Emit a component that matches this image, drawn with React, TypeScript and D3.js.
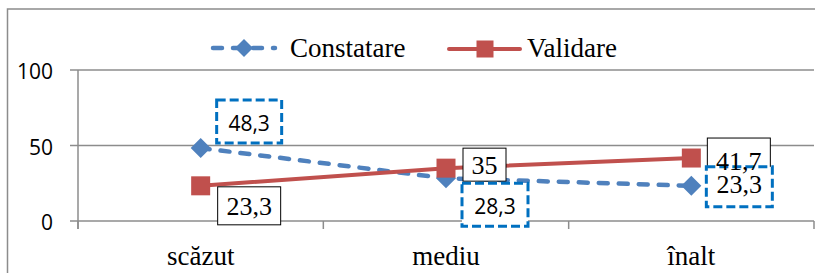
import React, { useEffect, useRef } from 'react';
import * as d3 from 'd3';

const categories = ['scăzut', 'mediu', 'înalt'];
const constatare = [48.3, 28.3, 23.3];
const validare = [23.3, 35, 41.7];
const constatareLabels = ['48,3', '28,3', '23,3'];
const validareLabels = ['23,3', '35', '41,7'];
const yTicks = [0, 50, 100];

// label box placement relative to the point: [dx, dy, width, height, textShift]
const constatareBoxes = [[16, -48, 65, 43, 0], [16, 5, 66, 43, 0], [15, -19, 66, 40, -3]];
const validareBoxes = [[17, 1, 63, 38, 0], [17, -20, 43, 33, 0], [16, -20, 63, 38, 3]];
const constatareFonts = ['sans', 'sans', 'serif'];

const SERIF = '"Liberation Serif", "Times New Roman", serif';
const SANS = '"Open Sans", "Noto Sans", sans-serif';
const BLUE = '#4F81BD';
const RED = '#C0504D';
const BOX_BLUE = '#0070C0';
const GRID = '#8c8c8c';

const App = () => {
  const ref = useRef<SVGSVGElement>(null);

  useEffect(() => {
    const svg = d3.select(ref.current);
    svg.selectAll('*').remove();

    const width = 815;
    const height = 273;
    const plot = { left: 78, right: 814, top: 70, bottom: 221 };

    svg.append('rect').attr('width', width).attr('height', height).attr('fill', '#fff');

    // outer frame
    svg.append('rect')
      .attr('x', 7.5).attr('y', 9)
      .attr('width', width + 10).attr('height', height + 10)
      .attr('fill', 'none').attr('stroke', GRID).attr('stroke-width', 1.5);

    const x = d3.scaleBand().domain(categories).range([plot.left, plot.right]).padding(0);
    const cx = (c: string) => (x(c) as number) + x.bandwidth() / 2;
    const y = d3.scaleLinear().domain([0, 100]).range([plot.bottom, plot.top]);

    // gridlines + y ticks
    yTicks.forEach(t => {
      svg.append('line')
        .attr('x1', plot.left - 8).attr('x2', plot.right)
        .attr('y1', y(t)).attr('y2', y(t))
        .attr('stroke', GRID).attr('stroke-width', 1.5);
      svg.append('text')
        .attr('x', 53).attr('y', y(t) + 1)
        .attr('text-anchor', 'end').attr('dominant-baseline', 'central')
        .attr('font-family', SANS).attr('font-size', 21).attr('fill', '#000')
        .text(t);
    });

    // y axis line
    svg.append('line')
      .attr('x1', plot.left).attr('x2', plot.left)
      .attr('y1', plot.top).attr('y2', plot.bottom + 8)
      .attr('stroke', GRID).attr('stroke-width', 1.5);

    // x ticks at band boundaries
    const bounds = categories.map(c => x(c) as number).concat([plot.right]);
    bounds.forEach(b => {
      svg.append('line')
        .attr('x1', b).attr('x2', b)
        .attr('y1', plot.bottom).attr('y2', plot.bottom + 8)
        .attr('stroke', GRID).attr('stroke-width', 1.5);
    });

    categories.forEach(c => {
      svg.append('text')
        .attr('x', cx(c)).attr('y', 265)
        .attr('text-anchor', 'middle')
        .attr('font-family', SERIF).attr('font-size', 27).attr('fill', '#000')
        .text(c);
    });

    const line = d3.line<number>()
      .x((_, i) => cx(categories[i]))
      .y(d => y(d));

    const diamond = (g: any, px: number, py: number, r: number) =>
      g.append('path')
        .attr('d', `M${px},${py - r}L${px + r},${py}L${px},${py + r}L${px - r},${py}Z`)
        .attr('fill', BLUE);
    const square = (g: any, px: number, py: number, s: number) =>
      g.append('rect')
        .attr('x', px - s / 2).attr('y', py - s / 2)
        .attr('width', s).attr('height', s)
        .attr('fill', RED);

    // Constatare series
    svg.append('path')
      .datum(constatare)
      .attr('d', line)
      .attr('fill', 'none').attr('stroke', BLUE).attr('stroke-width', 4.5)
      .attr('stroke-dasharray', '9,11').attr('stroke-linecap', 'round');
    constatare.forEach((v, i) => diamond(svg, cx(categories[i]), y(v), 10));

    // Validare series
    svg.append('path')
      .datum(validare)
      .attr('d', line)
      .attr('fill', 'none').attr('stroke', RED).attr('stroke-width', 4)
      .attr('stroke-linecap', 'round');
    validare.forEach((v, i) => square(svg, cx(categories[i]), y(v), 19));

    // data labels: boxes first, then texts
    const labels: any[] = [];
    validare.forEach((v, i) =>
      labels.push({ px: cx(categories[i]), py: y(v), box: validareBoxes[i], txt: validareLabels[i], dashed: false, font: 'serif' }));
    constatare.forEach((v, i) =>
      labels.push({ px: cx(categories[i]), py: y(v), box: constatareBoxes[i], txt: constatareLabels[i], dashed: true, font: constatareFonts[i] }));

    labels.forEach(l => {
      const [dx, dy, w, h] = l.box;
      svg.append('rect')
        .attr('x', l.px + dx).attr('y', l.py + dy)
        .attr('width', w).attr('height', h)
        .attr('fill', '#fff')
        .attr('stroke', l.dashed ? BOX_BLUE : '#000')
        .attr('stroke-width', l.dashed ? 3 : 1)
        .attr('stroke-dasharray', l.dashed ? '9,4' : null);
    });
    labels.forEach(l => {
      const [dx, dy, w, h, shift] = l.box;
      svg.append('text')
        .attr('x', l.px + dx + w / 2).attr('y', l.py + dy + h / 2 + 1 + shift)
        .attr('text-anchor', 'middle').attr('dominant-baseline', 'central')
        .attr('font-family', l.font === 'sans' ? SANS : SERIF)
        .attr('font-size', l.font === 'sans' ? 21 : 26)
        .attr('fill', '#000')
        .text(l.txt);
    });

    // legend
    const ly = 48;
    svg.append('line')
      .attr('x1', 213).attr('x2', 275).attr('y1', ly).attr('y2', ly)
      .attr('stroke', BLUE).attr('stroke-width', 4.5)
      .attr('stroke-dasharray', '9,11').attr('stroke-linecap', 'round');
    diamond(svg, 244, ly, 9);
    svg.append('text')
      .attr('x', 290).attr('y', 57)
      .attr('font-family', SERIF).attr('font-size', 27).attr('fill', '#000')
      .text('Constatare');

    svg.append('line')
      .attr('x1', 449).attr('x2', 520).attr('y1', ly + 1).attr('y2', ly + 1)
      .attr('stroke', RED).attr('stroke-width', 4).attr('stroke-linecap', 'round');
    square(svg, 485, ly + 1, 17);
    svg.append('text')
      .attr('x', 527).attr('y', 57)
      .attr('font-family', SERIF).attr('font-size', 27).attr('fill', '#000')
      .text('Validare');
  }, []);

  return (
    <svg ref={ref} width={815} height={273}
      style={{ position: 'absolute', left: 0, top: 0, display: 'block' }} />
  );
};

export default App;
